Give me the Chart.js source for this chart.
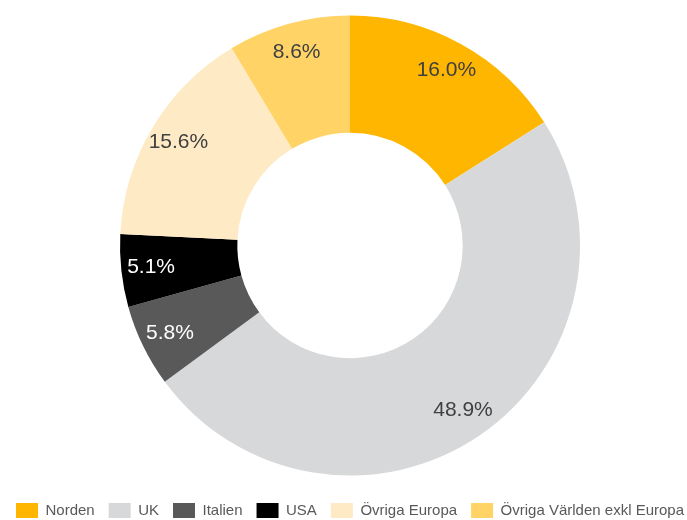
<!DOCTYPE html>
<html>
<head>
<meta charset="utf-8">
<script src="https://cdn.jsdelivr.net/npm/chart.js@4"></script>
<style>
  html, body { margin: 0; padding: 0; background: #fff; overflow: hidden; }
  #wrap { width: 700px; height: 520px; position: relative; }
</style>
</head>
<body>
<div id="wrap"><canvas id="regionChart"></canvas></div>
<script>
const categories = ['Norden', 'UK', 'Italien', 'USA', 'Övriga Europa', 'Övriga Världen exkl Europa'];
const shares = [16.0, 48.9, 5.8, 5.1, 15.6, 8.6];
const sliceColors = ['#FFB600', '#D7D8DA', '#595959', '#000000', '#FFEAC6', '#FFD366'];
const labelColors = ['#404040', '#404040', '#ffffff', '#ffffff', '#404040', '#404040'];

// draws the percentage on each slice
const sliceLabels = {
    id: 'sliceLabels',
    afterDatasetsDraw(chart) {
        const ctx = chart.ctx;
        const meta = chart.getDatasetMeta(0);
        ctx.save();
        ctx.font = '21px "Liberation Sans", Arial, sans-serif';
        ctx.textAlign = 'center';
        ctx.textBaseline = 'middle';
        meta.data.forEach((arc, i) => {
            const mid = (arc.startAngle + arc.endAngle) / 2;
            const r = arc.outerRadius * 0.87;
            const x = arc.x + Math.cos(mid) * r;
            const y = arc.y + Math.sin(mid) * r;
            ctx.fillStyle = labelColors[i];
            ctx.fillText(shares[i].toFixed(1) + '%', x, y);
        });
        ctx.restore();
    }
};

const ctx = document.getElementById('regionChart').getContext('2d');
const chart = new Chart(ctx, {
    type: 'doughnut',
    data: {
        labels: categories,
        datasets: [{
            data: shares,
            backgroundColor: sliceColors,
            borderWidth: 0
        }]
    },
    options: {
        responsive: true,
        maintainAspectRatio: false,
        animation: false,
        radius: 230,
        cutout: '49%',
        layout: {
            padding: { top: 2, bottom: -8 }
        },
        plugins: {
            legend: {
                position: 'bottom',
                labels: {
                    boxWidth: 22,
                    boxHeight: 15,
                    padding: 14,
                    color: '#595959',
                    font: { family: '"Liberation Sans", Arial, sans-serif', size: 15 }
                }
            },
            tooltip: { enabled: false }
        }
    },
    plugins: [sliceLabels]
});
</script>
</body>
</html>
